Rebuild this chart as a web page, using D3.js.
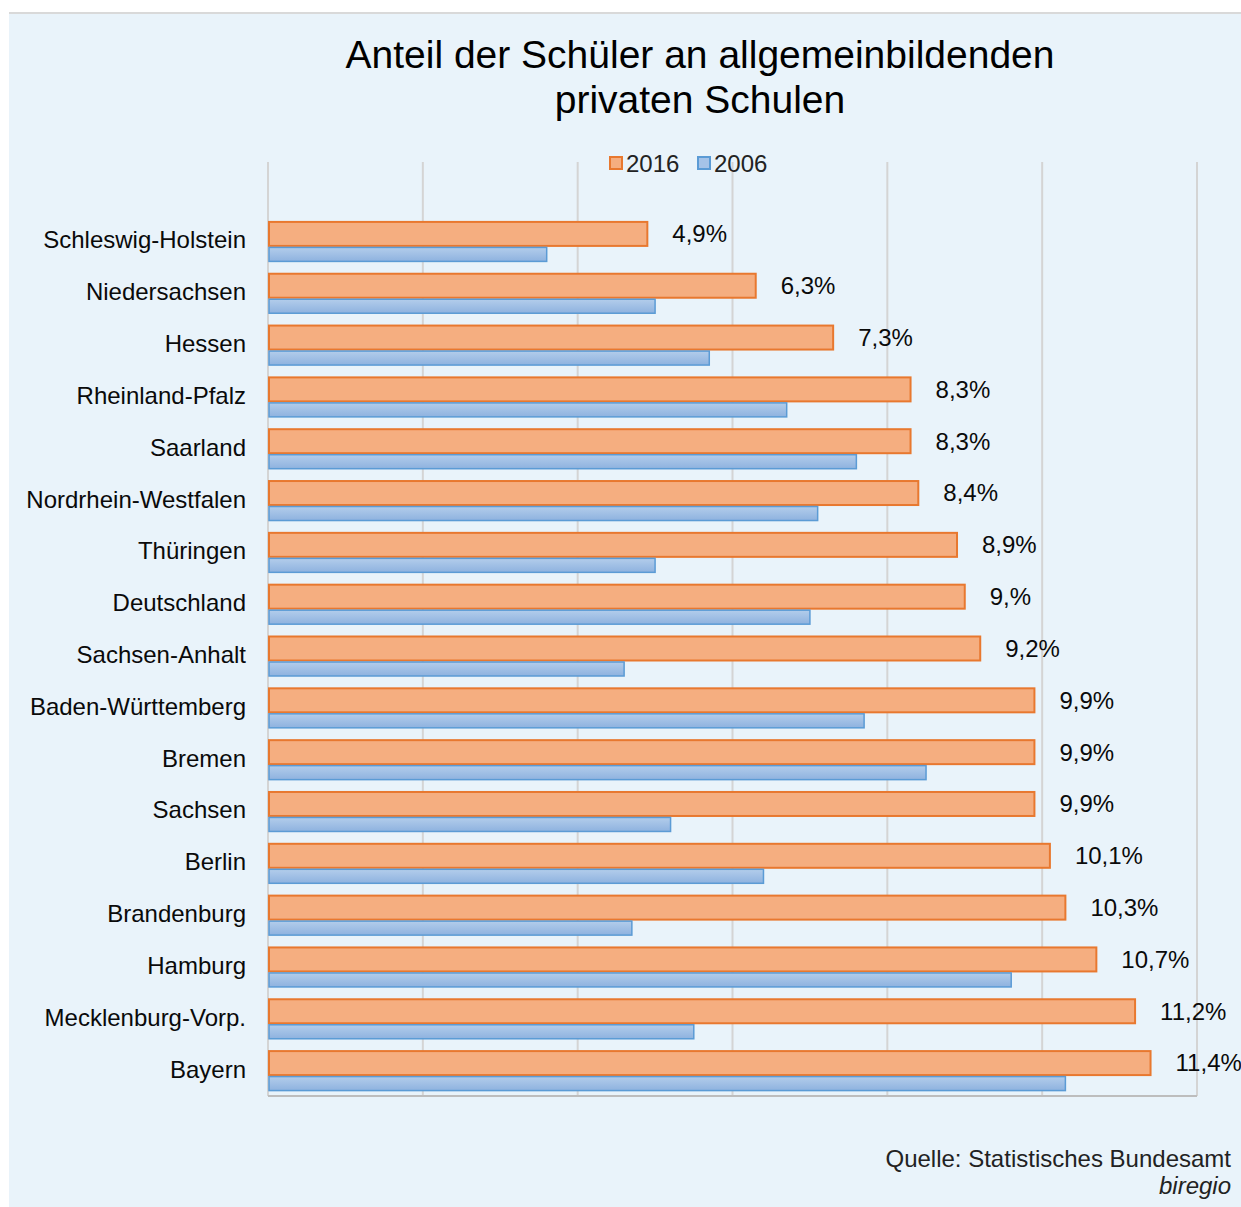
<!DOCTYPE html>
<html lang="de">
<head>
<meta charset="utf-8">
<title>Anteil der Schüler an allgemeinbildenden privaten Schulen</title>
<style>
    body { margin: 0; background: #ffffff; }
    svg { display: block; font-family: 'Liberation Sans', Arial, sans-serif; }
</style>
</head>
<body>
<div id="chart"></div>
<script src="https://d3js.org/d3.v7.min.js"></script>
<script>
    // data
    var laender = ["Schleswig-Holstein", "Niedersachsen", "Hessen", "Rheinland-Pfalz", "Saarland",
        "Nordrhein-Westfalen", "Thüringen", "Deutschland", "Sachsen-Anhalt", "Baden-Württemberg",
        "Bremen", "Sachsen", "Berlin", "Brandenburg", "Hamburg", "Mecklenburg-Vorp.", "Bayern"];
    var werte2016 = [4.9, 6.3, 7.3, 8.3, 8.3, 8.4, 8.9, 9.0, 9.2, 9.9, 9.9, 9.9, 10.1, 10.3, 10.7, 11.2, 11.4];
    var werte2006 = [3.6, 5.0, 5.7, 6.7, 7.6, 7.1, 5.0, 7.0, 4.6, 7.7, 8.5, 5.2, 6.4, 4.7, 9.6, 5.5, 10.3];
    var labels2016 = ["4,9%", "6,3%", "7,3%", "8,3%", "8,3%", "8,4%", "8,9%", "9,%", "9,2%", "9,9%",
        "9,9%", "9,9%", "10,1%", "10,3%", "10,7%", "11,2%", "11,4%"];
    var xTicks = [0, 2, 4, 6, 8, 10, 12];

    var width = 1241, height = 1207;
    var plotLeft = 268, plotRight = 1197, plotTop = 162, plotBottom = 1096;

    var svg = d3.select("#chart").append("svg")
        .attr("width", width)
        .attr("height", height);

    var defs = svg.append("defs");
    var grad = defs.append("linearGradient")
        .attr("id", "blueGrad")
        .attr("x1", 0).attr("y1", 0).attr("x2", 0).attr("y2", 1);
    grad.append("stop").attr("offset", "0%").attr("stop-color", "#b3cdeb");
    grad.append("stop").attr("offset", "100%").attr("stop-color", "#8eb2df");

    // background panel
    svg.append("rect")
        .attr("x", 9).attr("y", 13)
        .attr("width", width - 9).attr("height", height - 13)
        .attr("fill", "#e9f3fa");
    svg.append("line")
        .attr("x1", 9).attr("x2", width)
        .attr("y1", 13).attr("y2", 13)
        .attr("stroke", "#d9d9d9")
        .attr("stroke-width", 2);

    var x = d3.scaleLinear().domain([0, 12]).range([plotLeft, plotRight]);
    var y = d3.scaleBand().domain(laender).range([215, plotBottom]).paddingInner(0).paddingOuter(0);

    // gridlines
    svg.selectAll(".grid")
        .data(xTicks)
        .enter()
        .append("line")
        .attr("class", "grid")
        .attr("x1", function(d) { return x(d); })
        .attr("x2", function(d) { return x(d); })
        .attr("y1", plotTop)
        .attr("y2", plotBottom)
        .attr("stroke", "#d4d4d4")
        .attr("stroke-width", 2);

    // bottom axis line
    svg.append("line")
        .attr("x1", plotLeft).attr("x2", plotRight)
        .attr("y1", plotBottom).attr("y2", plotBottom)
        .attr("stroke", "#bdbdbd")
        .attr("stroke-width", 2);

    var orangeH = 24, blueH = 14;

    function groupTop(d) {
        return y(d) + y.bandwidth() / 2 - 20;
    }

    // 2016 bars
    svg.selectAll(".bar2016")
        .data(laender)
        .enter()
        .append("rect")
        .attr("class", "bar2016")
        .attr("x", x(0) + 1)
        .attr("y", function(d) { return groupTop(d) + 1; })
        .attr("width", function(d, i) { return x(werte2016[i]) - x(0) - 1; })
        .attr("height", orangeH)
        .attr("fill", "#f5ae80")
        .attr("stroke", "#e8782f")
        .attr("stroke-width", 2);

    // 2006 bars
    svg.selectAll(".bar2006")
        .data(laender)
        .enter()
        .append("rect")
        .attr("class", "bar2006")
        .attr("x", x(0) + 1)
        .attr("y", function(d) { return groupTop(d) + orangeH + 2.5; })
        .attr("width", function(d, i) { return x(werte2006[i]) - x(0) - 1; })
        .attr("height", blueH)
        .attr("fill", "url(#blueGrad)")
        .attr("stroke", "#5b9bd5")
        .attr("stroke-width", 1.5);

    // value labels 2016
    svg.selectAll(".wert")
        .data(laender)
        .enter()
        .append("text")
        .attr("class", "wert")
        .text(function(d, i) { return labels2016[i]; })
        .attr("x", function(d, i) { return x(werte2016[i]) + 25; })
        .attr("y", function(d) { return groupTop(d) + 1 + orangeH / 2; })
        .attr("dy", "0.35em")
        .attr("font-size", 24)
        .attr("fill", "#0a0a0a");

    // category labels
    svg.selectAll(".land")
        .data(laender)
        .enter()
        .append("text")
        .attr("class", "land")
        .text(function(d) { return d; })
        .attr("x", 246)
        .attr("y", function(d) { return groupTop(d) + 27.5; })
        .attr("text-anchor", "end")
        .attr("font-size", 24)
        .attr("fill", "#0a0a0a");

    // title
    var title = ["Anteil der Schüler an allgemeinbildenden", "privaten Schulen"];
    svg.selectAll(".title")
        .data(title)
        .enter()
        .append("text")
        .attr("class", "title")
        .text(function(d) { return d; })
        .attr("x", 700)
        .attr("y", function(d, i) { return 68 + i * 45; })
        .attr("text-anchor", "middle")
        .attr("font-size", 39)
        .attr("fill", "#000");

    // legend
    var legend = [
        { name: "2016", fill: "#f5ae80", stroke: "#e8782f", x: 610 },
        { name: "2006", fill: "#a5c3e8", stroke: "#5b9bd5", x: 698 }
    ];
    var lg = svg.selectAll(".legend")
        .data(legend)
        .enter()
        .append("g")
        .attr("class", "legend");
    lg.append("rect")
        .attr("x", function(d) { return d.x; })
        .attr("y", 157)
        .attr("width", 12)
        .attr("height", 12)
        .attr("fill", function(d) { return d.fill; })
        .attr("stroke", function(d) { return d.stroke; })
        .attr("stroke-width", 2);
    lg.append("text")
        .text(function(d) { return d.name; })
        .attr("x", function(d) { return d.x + 16; })
        .attr("y", 172)
        .attr("font-size", 24)
        .attr("fill", "#222");

    // source
    svg.append("text")
        .text("Quelle: Statistisches Bundesamt")
        .attr("x", 1231)
        .attr("y", 1167)
        .attr("text-anchor", "end")
        .attr("font-size", 24)
        .attr("fill", "#222");
    svg.append("text")
        .text("biregio")
        .attr("x", 1231)
        .attr("y", 1194)
        .attr("text-anchor", "end")
        .attr("font-size", 24)
        .attr("font-style", "italic")
        .attr("fill", "#222");
</script>
</body>
</html>
